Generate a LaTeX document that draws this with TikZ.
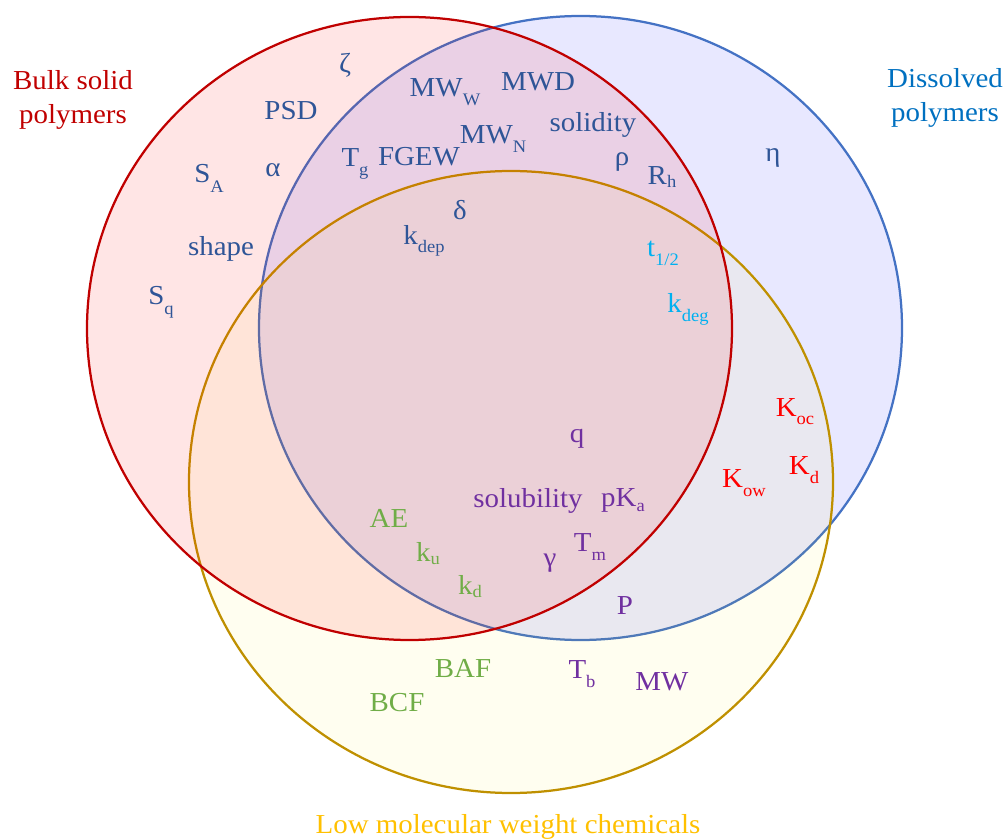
\documentclass[tikz,border=0pt]{standalone}
\usepackage{fontspec}
\setmainfont{Liberation Serif}
\usetikzlibrary{positioning}
\definecolor{bulkline}{HTML}{C00000}
\definecolor{dissline}{HTML}{4472C4}
\definecolor{lowline}{HTML}{BF9000}
\definecolor{disstext}{HTML}{0070C0}
\definecolor{lowtext}{HTML}{FFC000}
\definecolor{polytext}{HTML}{2F5597}
\definecolor{cyantext}{HTML}{00B0F0}
\definecolor{redtext}{HTML}{FF0000}
\definecolor{purptext}{HTML}{7030A0}
\definecolor{greentext}{HTML}{70AD47}
\newcommand{\lowsub}[2][6.4pt]{\raisebox{-#1}{\fontsize{12.5}{13}\selectfont #2}}
\tikzset{
  setline/.style={line width=1.6pt},
  prop/.style={anchor=base, inner sep=0pt, transform shape, xscale=1.055, font=\fontsize{19.5}{22}\selectfont},
  poly/.style={prop, text=polytext},
  fast/.style={prop, text=cyantext},
  part/.style={prop, text=redtext},
  chem/.style={prop, text=purptext},
  bio/.style={prop, text=greentext}
}
\begin{document}
\begin{tikzpicture}[x=0.025cm, y=-0.025cm]
\useasboundingbox (0,0) rectangle (1008,839);
%% the three sets
  \draw[setline, draw=dissline, fill=blue, fill opacity=0.09] (580.5,328) ellipse [x radius=321.5, y radius=312];
  \draw[setline, draw=lowline, fill=yellow, fill opacity=0.06] (511,482) ellipse [x radius=322, y radius=311];
  \draw[setline, draw=bulkline, fill=red, fill opacity=0.1] (409.5,328.5) ellipse [x radius=322.5, y radius=311.5];
%% set names
  \node[prop, text=bulkline] (bulk) at (73,90) {Bulk solid};
  \node[prop, text=bulkline] (bulkb) at (73,124) {polymers};
  \node[prop, text=disstext] (diss) at (945,88) {Dissolved};
  \node[prop, text=disstext] (dissb) at (945,122) {polymers};
  \node[prop, text=lowtext] (low) at (508,833) {Low molecular weight chemicals};
%% polymer properties
  \node[poly] (zeta) at (345,73) {ζ};
  \node[poly] (psd) at (291,120) {PSD};
  \node[poly] (sa) at (209,183) {S\lowsub[7pt]{A}};
  \node[poly] (alpha) at (273,177) {α};
  \node[poly] (shape) at (221,256) {shape};
  \node[poly] (sq) at (161,305) {S\lowsub[7pt]{q}};
  \node[poly] (mww) at (445,97) {MW\lowsub{W}};
  \node[poly] (mwd) at (538,91) {MWD};
  \node[poly] (solidity) at (593,132) {solidity};
  \node[poly] (mwn) at (493,144) {MW\lowsub{N}};
  \node[poly] (tg) at (355,167) {T\lowsub{g}};
  \node[poly] (fgew) at (419,166) {FGEW};
  \node[poly] (rho) at (622,166) {ρ};
  \node[poly] (rh) at (662,185) {R\lowsub[1.5pt]{h}};
  \node[poly] (delta) at (460,220) {δ};
  \node[poly] (kdep) at (424,245) {k\lowsub[5pt]{dep}};
  \node[poly] (eta) at (773,162) {η};
%% degradation
  \node[fast] (thalf) at (663,257) {t\lowsub{1/2}};
  \node[fast] (kdeg) at (688,313) {k\lowsub{deg}};
%% partitioning
  \node[part] (koc) at (795,417) {K\lowsub[5.5pt]{oc}};
  \node[part] (kd) at (804,475) {K\lowsub{d}};
  \node[part] (kow) at (744,488) {K\lowsub{ow}};
%% chemical properties
  \node[chem] (q) at (577,443) {q};
  \node[chem] (solub) at (528,508) {solubility};
  \node[chem] (pka) at (623,507) {pK\lowsub[3.5pt]{a}};
  \node[chem] (tm) at (590,552) {T\lowsub{m}};
  \node[chem] (gamma) at (550,567) {γ};
  \node[chem] (p) at (625,615) {P};
  \node[chem] (tb) at (582,678) {T\lowsub[7pt]{b}};
  \node[chem] (mw) at (662,691) {MW};
%% bioaccumulation
  \node[bio] (ae) at (389,528) {AE};
  \node[bio] (ku) at (428,562) {k\lowsub[2pt]{u}};
  \node[bio] (kdg) at (470,595) {k\lowsub[1.5pt]{d}};
  \node[bio] (baf) at (463,677) {BAF};
  \node[bio] (bcf) at (397,711) {BCF};
\end{tikzpicture}
\end{document}
